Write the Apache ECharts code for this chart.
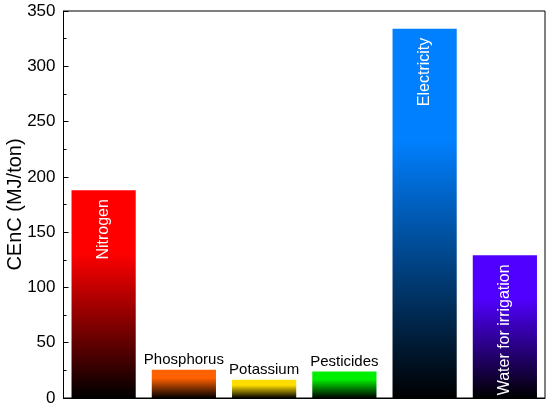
<!DOCTYPE html>
<html>
<head>
<meta charset="utf-8">
<script src="https://cdn.jsdelivr.net/npm/echarts@6/dist/echarts.min.js"></script>
<style>
  html, body { margin: 0; padding: 0; background: #fff; }
  #chart { width: 550px; height: 409px; }
</style>
</head>
<body>
<div id="chart"></div>
<script>
// energy inputs, CEnC in MJ/ton
var categories = ['Nitrogen', 'Phosphorus', 'Potassium', 'Pesticides', 'Electricity', 'Water for irrigation'];
var values = [188, 25.5, 16.5, 24, 334, 129];
var barColors = ['#ff0000', '#ff6000', '#ffdd00', '#00ee00', '#0080ff', '#5000ff'];
var insideLabel = [true, false, false, false, true, true];

var yTicks = [0, 50, 100, 150, 200, 250, 300, 350];

/**
 * Vertical fill: bar colour at the top, fading to black at the base.
 */
function fadeFill(color) {
    return new echarts.graphic.LinearGradient(0, 0, 0, 1, [
        {offset: 0, color: color},
        {offset: 0.3, color: color},
        {offset: 1, color: '#000000'}
    ]);
}

var chart = echarts.init(document.getElementById('chart'));

var barData = values.map(function (v, i) {
    var item = {
        value: v,
        itemStyle: {color: fadeFill(barColors[i])}
    };
    if (insideLabel[i]) {
        item.label = {
            show: true,
            position: 'insideTop',
            rotate: 90,
            align: 'right',
            verticalAlign: 'middle',
            distance: 9,
            color: '#ffffff',
            fontSize: 16
        };
    } else {
        item.label = {
            show: true,
            position: 'top',
            distance: 2,
            color: '#000000',
            fontSize: 15
        };
    }
    return item;
});

var option = {
    animation: false,
    textStyle: {fontFamily: 'Liberation Sans, Arial, sans-serif'},
    grid: {
        left: 63.5, right: 5, top: 11, bottom: 11,
        containLabel: false,
        outerBoundsMode: 'none',
        show: true, borderColor: '#000', borderWidth: 1, backgroundColor: 'transparent'
    },
    xAxis: {
        type: 'category',
        data: categories,
        axisLine: {lineStyle: {color: '#000'}},
        axisTick: {show: false},
        axisLabel: {show: false}
    },
    yAxis: {
        type: 'value',
        min: yTicks[0],
        max: yTicks[yTicks.length - 1],
        interval: 50,
        name: 'CEnC (MJ/ton)',
        nameLocation: 'middle',
        nameGap: 38,
        nameMoveOverlap: false,
        nameTextStyle: {fontSize: 20, color: '#000'},
        axisLine: {show: true, lineStyle: {color: '#000'}},
        axisTick: {show: true, inside: true, length: 5, lineStyle: {color: '#000'}},
        minorTick: {show: true, splitNumber: 2, length: 3, lineStyle: {color: '#000'}},
        axisLabel: {fontSize: 17, color: '#000', margin: 8},
        splitLine: {show: false}
    },
    series: [{
        type: 'bar',
        data: barData,
        barCategoryGap: '20%',
        label: {show: true, formatter: '{b}'}
    }]
};

chart.setOption(option);

window.onresize = function () {
    chart.resize();
};
</script>
</body>
</html>
